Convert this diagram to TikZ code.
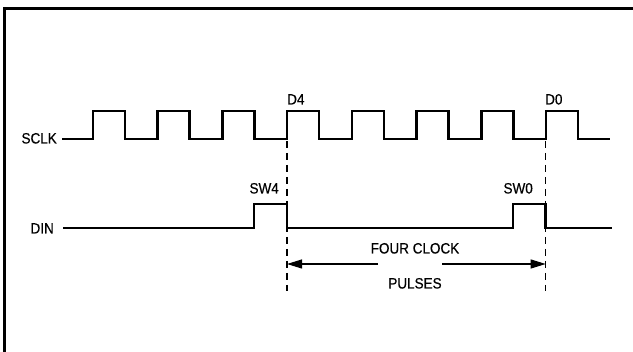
\documentclass[tikz,border=0pt]{standalone}
\usepackage{fontspec}
\setmainfont{Liberation Sans}[FakeStretch=0.9,FakeBold=0.4]
\usetikzlibrary{arrows.meta}
\begin{document}
\begin{tikzpicture}[x=1pt,y=-1pt,
  wave/.style={line width=2.6pt, line join=miter},
  guide/.style={line width=1.5pt, dash pattern=on 7pt off 5pt},
  lbl/.style={font=\fontsize{15}{17}\selectfont, inner sep=0pt},
  dim/.style={line width=1.1pt},
  frame/.style={line width=2.5pt}]
\useasboundingbox (0,0) rectangle (633,352);
\fill[white] (0,0) rectangle (633,352);
\draw[frame] (4.7,352) -- (4.7,8.5) -- (633,8.5);
% SCLK waveform
\draw[wave] (62,139) \foreach \i in {0,...,7}{
  -- ({93+64.7*\i},139) -- ({93+64.7*\i},111) -- ({125+64.7*\i},111) -- ({125+64.7*\i},139)}
  -- (610,139);
% DIN waveform
\draw[wave] (63,228) -- (254,228) -- (254,204) -- (287,204) -- (287,228)
  -- (513,228) -- (513,204) -- (545.7,204) -- (545.7,228) -- (612,228);
% guide lines
\coordinate (g4t) at (287,141);
\coordinate (g4b) at (287,291);
\coordinate (g0t) at (545.7,141);
\coordinate (g0b) at (545.7,291);
\draw[guide] (g4t) -- (g4b);
\draw[guide] (g0t) -- (g0b);
% dimension arrow
\coordinate (aL) at (287,264);
\coordinate (aR) at (545.7,264);
\coordinate (gapL) at (378,264);
\coordinate (gapR) at (442,264);
\draw[dim, -{Triangle[length=15pt,width=9pt]}] (gapL) -- (aL);
\draw[dim, -{Triangle[length=15pt,width=9pt]}] (gapR) -- (aR);
% labels
\node[lbl, anchor=base east] (sclk) at (57,143.5) {SCLK};
\node[lbl, anchor=base east] (din) at (54,233.5) {DIN};
\node[lbl, anchor=base west] (d4) at (287,104.5) {D4};
\node[lbl, anchor=base west] (d0) at (545,104.5) {D0};
\node[lbl, anchor=base east] (sw4) at (279,193.5) {SW4};
\node[lbl, anchor=base east] (sw0) at (533,193.5) {SW0};
\node[lbl, anchor=base] (four) at (415,253.5) {FOUR CLOCK};
\node[lbl, anchor=base] (pulses) at (415,288.5) {PULSES};
\end{tikzpicture}
\end{document}
